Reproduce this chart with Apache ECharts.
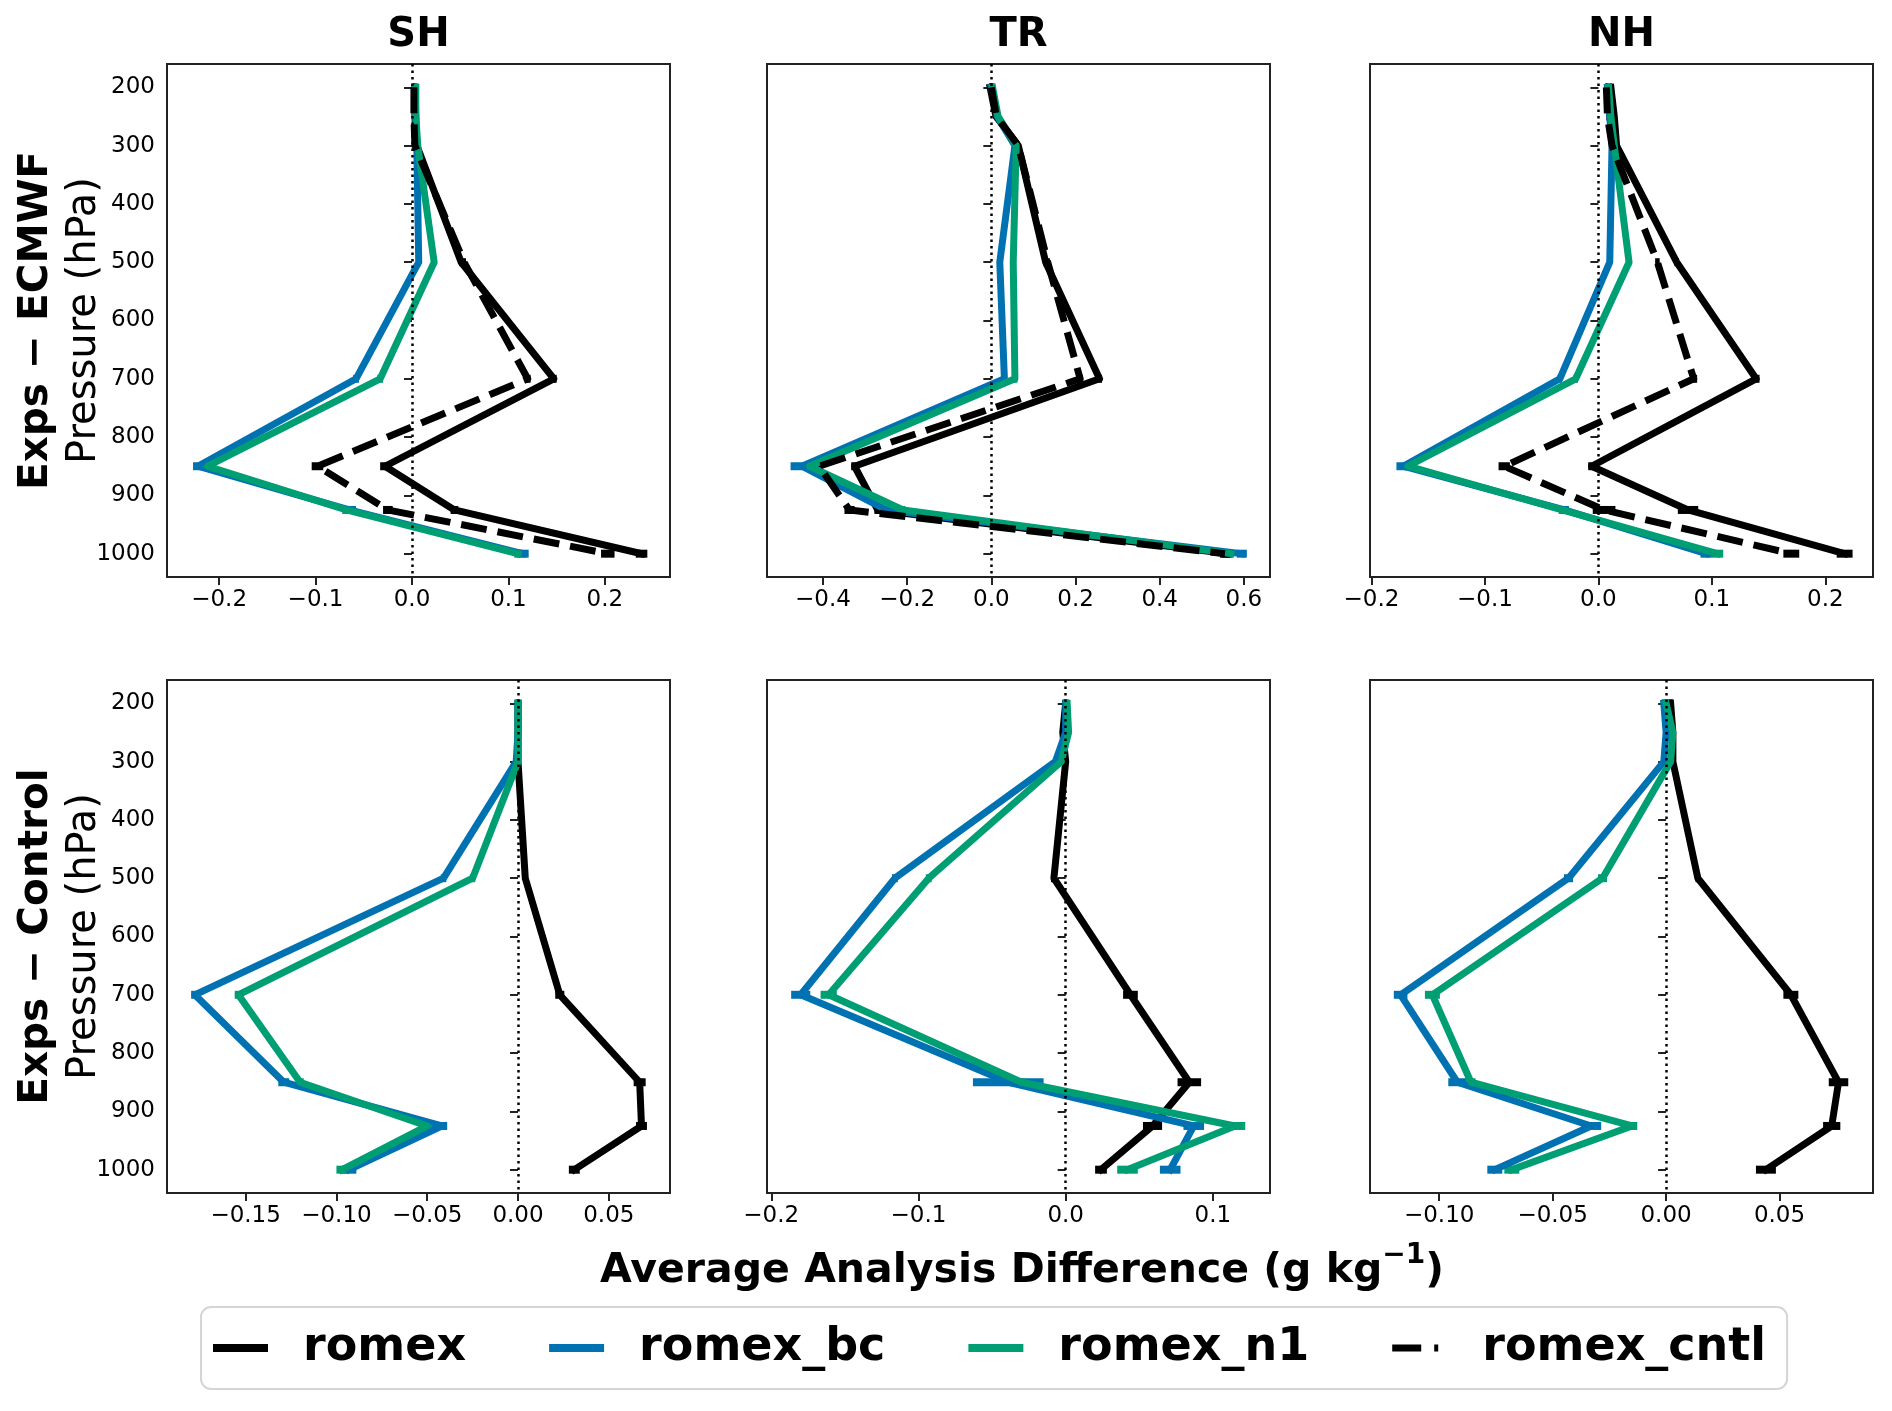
<!DOCTYPE html>
<html>
<head>
<meta charset="utf-8">
<script src="https://cdn.jsdelivr.net/npm/echarts@6/dist/echarts.min.js"></script>
<style>
  html, body { margin: 0; padding: 0; background: #fff; }
  #chart { width: 1892px; height: 1411px; }
</style>
</head>
<body>
<div id="chart"></div>
<script>
// pressure levels (hPa)
const levels = [200, 250, 300, 500, 700, 850, 925, 1000];
const pressureTicks = [200, 300, 400, 500, 600, 700, 800, 900, 1000];
const seriesNames = ['romex', 'romex_bc', 'romex_n1', 'romex_cntl'];
const regions = ['SH', 'TR', 'NH'];
const rowLabels = ['Exps \u2212 ECMWF', 'Exps \u2212 Control'];

// x tick labels per panel
const shTopTicks = [-0.2, -0.1, 0, 0.1, 0.2];
const trTopTicks = [-0.4, -0.2, 0, 0.2, 0.4, 0.6];
const nhTopTicks = [-0.2, -0.1, 0, 0.1, 0.2];
const shBotTicks = [-0.15, -0.10, -0.05, 0, 0.05];
const trBotTicks = [-0.2, -0.1, 0, 0.1];
const nhBotTicks = [-0.10, -0.05, 0, 0.05];

// Exps - ECMWF
const shEcRomex = [0.003, 0.003, 0.005, 0.051, 0.147, -0.028, 0.044, 0.238];
const shEcBc    = [0.003, 0.004, 0.005, 0.007, -0.058, -0.222, -0.065, 0.115];
const shEcN1    = [0.004, 0.004, 0.006, 0.023, -0.033, -0.212, -0.068, 0.110];
const shEcCntl  = [0.002, 0.002, 0.003, 0.054, 0.120, -0.098, -0.025, 0.203];
const shEcRomexErr = [0.001, 0.001, 0.001, 0.002, 0.003, 0.005, 0.004, 0.006];
const shEcBcErr    = [0.001, 0.001, 0.001, 0.002, 0.003, 0.005, 0.007, 0.006];
const shEcN1Err    = [0.001, 0.001, 0.001, 0.002, 0.003, 0.003, 0.004, 0.004];
const shEcCntlErr  = [0.001, 0.001, 0.001, 0.002, 0.003, 0.006, 0.005, 0.007];

const trEcRomex = [-0.003, 0.011, 0.064, 0.129, 0.257, -0.325, -0.270, 0.560];
const trEcBc    = [0.000, 0.014, 0.056, 0.020, 0.031, -0.450, -0.250, 0.595];
const trEcN1    = [0.003, 0.016, 0.059, 0.052, 0.056, -0.432, -0.210, 0.569];
const trEcCntl  = [0.000, 0.012, 0.064, 0.134, 0.211, -0.409, -0.337, 0.555];
const trEcRomexErr = [0.003, 0.003, 0.004, 0.005, 0.006, 0.008, 0.008, 0.012];
const trEcBcErr    = [0.003, 0.003, 0.004, 0.005, 0.006, 0.027, 0.008, 0.012];
const trEcN1Err    = [0.003, 0.003, 0.004, 0.005, 0.006, 0.006, 0.006, 0.006];
const trEcCntlErr  = [0.003, 0.003, 0.004, 0.005, 0.006, 0.008, 0.012, 0.012];

const nhEcRomex = [0.011, 0.014, 0.016, 0.069, 0.139, -0.006, 0.079, 0.217];
const nhEcBc    = [0.008, 0.010, 0.012, 0.010, -0.034, -0.172, -0.030, 0.095];
const nhEcN1    = [0.009, 0.011, 0.014, 0.027, -0.020, -0.168, -0.032, 0.105];
const nhEcCntl  = [0.007, 0.008, 0.012, 0.052, 0.084, -0.083, 0.005, 0.170];
const nhEcRomexErr = [0.001, 0.001, 0.001, 0.002, 0.003, 0.003, 0.009, 0.007];
const nhEcBcErr    = [0.001, 0.001, 0.001, 0.002, 0.002, 0.006, 0.004, 0.005];
const nhEcN1Err    = [0.001, 0.001, 0.001, 0.002, 0.002, 0.003, 0.003, 0.005];
const nhEcCntlErr  = [0.001, 0.001, 0.001, 0.002, 0.003, 0.005, 0.010, 0.007];

// Exps - Control
const shCtRomex = [0.000, 0.000, 0.000, 0.004, 0.023, 0.067, 0.068, 0.031];
const shCtBc    = [0.000, 0.000, -0.001, -0.041, -0.178, -0.129, -0.042, -0.093];
const shCtN1    = [0.000, 0.000, 0.000, -0.025, -0.154, -0.120, -0.050, -0.097];
const shCtRomexErr = [0.001, 0.001, 0.001, 0.001, 0.0025, 0.0033, 0.003, 0.003];
const shCtBcErr    = [0.001, 0.001, 0.001, 0.0015, 0.002, 0.003, 0.003, 0.004];
const shCtN1Err    = [0.001, 0.001, 0.001, 0.0015, 0.002, 0.002, 0.002, 0.003];

const trCtRomex = [0.000, -0.002, 0.000, -0.008, 0.044, 0.084, 0.059, 0.024];
const trCtBc    = [0.000, 0.000, -0.007, -0.116, -0.180, -0.039, 0.087, 0.071];
const trCtN1    = [0.001, 0.002, -0.003, -0.093, -0.161, -0.030, 0.115, 0.042];
const trCtRomexErr = [0.001, 0.001, 0.001, 0.002, 0.005, 0.008, 0.0065, 0.004];
const trCtBcErr    = [0.001, 0.001, 0.001, 0.002, 0.0065, 0.024, 0.007, 0.007];
const trCtN1Err    = [0.001, 0.001, 0.001, 0.002, 0.0055, 0.003, 0.007, 0.007];

const nhCtRomex = [0.002, 0.003, 0.003, 0.014, 0.055, 0.076, 0.073, 0.044];
const nhCtBc    = [-0.001, 0.000, -0.001, -0.043, -0.117, -0.092, -0.033, -0.0755];
const nhCtN1    = [0.000, 0.003, 0.002, -0.028, -0.103, -0.086, -0.015, -0.068];
const nhCtRomexErr = [0.001, 0.001, 0.001, 0.001, 0.0033, 0.0043, 0.0038, 0.0044];
const nhCtBcErr    = [0.001, 0.001, 0.001, 0.002, 0.003, 0.004, 0.0044, 0.0033];
const nhCtN1Err    = [0.001, 0.001, 0.001, 0.002, 0.0033, 0.002, 0.0023, 0.0033];

const colors = { romex: '#000000', romex_bc: '#0072B2', romex_n1: '#009E73', romex_cntl: '#000000' };
const FONT = 'DejaVu Sans';
const LW = 7;

// layout (px)
const colLeft = [167, 767, 1370];
const rowTop = [64, 680];
const panelW = 503, panelH = 513;

const panels = [
  { row: 0, col: 0, xMin: -0.254, xMax: 0.2675, ticks: shTopTicks, dec: 1,
    vals: [shEcRomex, shEcBc, shEcN1, shEcCntl], errs: [shEcRomexErr, shEcBcErr, shEcN1Err, shEcCntlErr] },
  { row: 0, col: 1, xMin: -0.533, xMax: 0.662, ticks: trTopTicks, dec: 1,
    vals: [trEcRomex, trEcBc, trEcN1, trEcCntl], errs: [trEcRomexErr, trEcBcErr, trEcN1Err, trEcCntlErr] },
  { row: 0, col: 2, xMin: -0.2013, xMax: 0.242, ticks: nhTopTicks, dec: 1,
    vals: [nhEcRomex, nhEcBc, nhEcN1, nhEcCntl], errs: [nhEcRomexErr, nhEcBcErr, nhEcN1Err, nhEcCntlErr] },
  { row: 1, col: 0, xMin: -0.1933, xMax: 0.0837, ticks: shBotTicks, dec: 2,
    vals: [shCtRomex, shCtBc, shCtN1], errs: [shCtRomexErr, shCtBcErr, shCtN1Err] },
  { row: 1, col: 1, xMin: -0.2029, xMax: 0.1388, ticks: trBotTicks, dec: 1,
    vals: [trCtRomex, trCtBc, trCtN1], errs: [trCtRomexErr, trCtBcErr, trCtN1Err] },
  { row: 1, col: 2, xMin: -0.1305, xMax: 0.0912, ticks: nhBotTicks, dec: 2,
    vals: [nhCtRomex, nhCtBc, nhCtN1], errs: [nhCtRomexErr, nhCtBcErr, nhCtN1Err] }
];

function fmt(v, d) {
  const s = Math.abs(v).toFixed(d);
  return (v < -1e-9 ? '\u2212' : '') + s;
}

const grid = [], xAxis = [], yAxis = [], series = [];

panels.forEach((p, i) => {
  grid.push({
    left: colLeft[p.col], top: rowTop[p.row], width: panelW, height: panelH,
    show: true, borderColor: '#222', borderWidth: 2, backgroundColor: 'transparent'
  });
  xAxis.push({
    type: 'value', gridIndex: i, min: p.xMin, max: p.xMax,
    axisLine: { show: false },
    splitLine: { show: false },
    axisTick: { show: true, length: 8, lineStyle: { color: '#222', width: 2 }, customValues: p.ticks },
    axisLabel: {
      customValues: p.ticks, margin: 12, fontSize: 23, fontFamily: FONT, color: '#000',
      formatter: (v) => fmt(v, p.dec)
    }
  });
  yAxis.push({
    type: 'value', gridIndex: i, min: 160, max: 1040, inverse: true,
    axisLine: { show: false },
    splitLine: { show: false },
    axisTick: { show: true, length: 8, lineStyle: { color: '#222', width: 2 }, customValues: pressureTicks },
    axisLabel: {
      show: p.col === 0, customValues: pressureTicks, margin: 12,
      fontSize: 23, fontFamily: FONT, color: '#000',
      formatter: (v) => String(Math.round(v))
    }
  });

  p.vals.forEach((vals, k) => {
    const name = seriesNames[k];
    const dashed = name === 'romex_cntl';
    const s = {
      type: 'line', name: name, xAxisIndex: i, yAxisIndex: i,
      data: levels.map((lev, j) => [vals[j], lev]),
      symbol: 'none', silent: true, animation: false,
      lineStyle: {
        color: colors[name], width: LW,
        type: dashed ? [26, 11] : 'solid',
        cap: dashed ? 'butt' : 'square', join: 'round'
      },
      itemStyle: { color: colors[name] }
    };
    if (k === 0) {
      s.markLine = {
        silent: true, symbol: 'none', animation: false,
        label: { show: false },
        lineStyle: { color: '#000', width: 2.5, type: [2.5, 4] },
        data: [{ xAxis: 0 }]
      };
    }
    series.push(s);

    const err = p.errs[k];
    series.push({
      type: 'custom', name: name + ' err', xAxisIndex: i, yAxisIndex: i,
      coordinateSystem: 'cartesian2d', silent: true, animation: false,
      data: levels.map((lev, j) => [vals[j] - err[j], vals[j] + err[j], lev]),
      encode: { x: [0, 1], y: 2 },
      renderItem: (params, api) => {
        const a = api.coord([api.value(0), api.value(2)]);
        const b = api.coord([api.value(1), api.value(2)]);
        return {
          type: 'line',
          shape: { x1: a[0], y1: a[1], x2: b[0], y2: b[1] },
          style: { stroke: colors[name], lineWidth: LW + 1, lineCap: 'butt' }
        };
      }
    });
  });
});

const graphic = [];
regions.forEach((r, c) => {
  graphic.push({
    type: 'text', x: colLeft[c] + panelW / 2, y: 36,
    style: { text: r, fontSize: 40, fontWeight: 'bold', fontFamily: FONT, fill: '#000',
      align: 'center', verticalAlign: 'middle' }
  });
});
rowLabels.forEach((lab, r) => {
  const cy = rowTop[r] + panelH / 2;
  graphic.push({
    type: 'text', x: 36, y: cy, rotation: Math.PI / 2,
    style: { text: lab, fontSize: 40.5, fontWeight: 'bold', fontFamily: FONT, fill: '#000',
      align: 'center', verticalAlign: 'middle' }
  });
  graphic.push({
    type: 'text', x: 85, y: cy, rotation: Math.PI / 2,
    style: { text: 'Pressure (hPa)', fontSize: 40, fontFamily: FONT, fill: '#000',
      align: 'center', verticalAlign: 'middle' }
  });
});
graphic.push({
  type: 'text', x: 1022, y: 1267,
  style: {
    text: '{a|Average Analysis Difference (g kg}{s|\u22121}{a|)}',
    align: 'center', verticalAlign: 'middle', fill: '#000',
    rich: {
      a: { fontSize: 41, fontWeight: 'bold', fontFamily: FONT, lineHeight: 50, verticalAlign: 'bottom' },
      s: { fontSize: 28, fontWeight: 'bold', fontFamily: FONT, lineHeight: 50, verticalAlign: 'top' }
    }
  }
});

const solidIcon = 'rect';
const dashIcon = 'path://M0,0H29V7H0Z M42,0H46V7H42Z M54.99,3.5H55V3.51H54.99Z';

const chart = echarts.init(document.getElementById('chart'), null, { renderer: 'canvas' });
chart.setOption({
  backgroundColor: '#fff',
  animation: false,
  grid: grid,
  xAxis: xAxis,
  yAxis: yAxis,
  series: series,
  graphic: graphic,
  legend: {
    data: [
      { name: 'romex', icon: solidIcon },
      { name: 'romex_bc', icon: solidIcon },
      { name: 'romex_n1', icon: solidIcon },
      { name: 'romex_cntl', icon: dashIcon }
    ],
    selectedMode: false,
    left: 201, top: 1307,
    padding: [18, 21, 18, 12],
    itemGap: 83, itemWidth: 55, itemHeight: 8,
    borderColor: '#d5d5d5', borderWidth: 2, borderRadius: 10, backgroundColor: '#fff',
    textStyle: { fontSize: 46, fontWeight: 'bold', fontFamily: FONT, color: '#000', padding: [0, 0, 0, 30] }
  }
});
</script>
</body>
</html>
